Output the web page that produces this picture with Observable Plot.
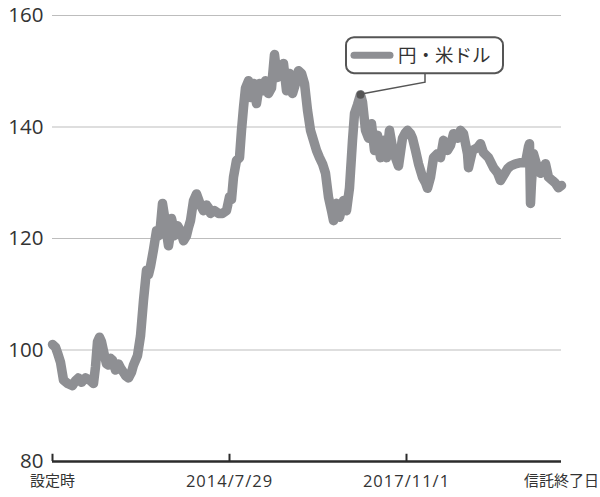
<!DOCTYPE html>
<html>
<head>
<meta charset="utf-8">
<script src="https://cdn.jsdelivr.net/npm/d3@7"></script>
<script src="https://cdn.jsdelivr.net/npm/@observablehq/plot@0.6"></script>
<style>
  html, body { margin: 0; padding: 0; background: #fff; }
  #chart svg { display: block; }
</style>
</head>
<body>
<div id="chart"></div>
<script>
// time position (observation index along the period) and value
const period = [0,3,5,8,11,15,20,23,26,29,33,38,41,43,45,47,49,52,54,56,58,60,63,66,68,71,73,76,79,81,85,88,91,94,96,98,101,104,106,108,110,112,113,116,118,119,121,122,125,128,131,134,136,138,141,144,146,148,151,154,156,158,162,166,170,174,177,179,181,184,187,189,191,193,196,198,201,204,207,210,213,216,219,222,224,225,228,231,234,237,240,243,246,249,252,255,258,261,264,267,270,273,276,279,281,284,287,291,294,297,300,302,305,308,310,313,316,319,322,325,328,331,334,337,340,343,346,350,353,355,358,360,363,366,370,373,375,378,381,385,388,391,395,398,401,405,408,411,415,416,420,425,428,431,436,441,445,448,451,455,458,463,468,473,476,477,478,479,481,485,488,493,496,500,503,506,509];
const series = [101,100.5,99.5,97.8,94.6,94,93.6,94.5,95,94.2,95,94.5,94,97,101.5,102.3,101.5,99,97.5,97.3,98.5,98.2,96.4,97.5,96.8,96,95.4,95,96,97.3,99,102.5,108.9,114.3,113.5,115,118,121.4,120.5,122.3,126.3,124,122.3,118.7,121,123.6,122,120.5,122.3,121.4,119.6,120.5,122,123.2,126.8,128,127,126,125,126,125.5,124.5,125,124.5,124.5,125,127.5,127,131,134,134.5,139.4,143.5,147,148.3,145.3,147.8,144.2,147.8,146.5,148.3,146,147,153,150,148.9,149.6,151.4,146.5,149.6,146,147.8,150.1,149.6,147.8,143,139.4,137.6,135.8,134.5,133.4,131.7,127.4,125,123.2,126.3,123.8,126.8,125,129.1,137.6,142.4,144,145.8,144.5,139.4,138,140.6,135.8,138.5,134.5,137.6,134.5,139.4,136.3,134.5,133,138,139,139.4,138.8,138,135.8,133.4,131,130,129,131,134.5,135.2,134.5,137.6,135.8,136.7,138.8,138,139.4,138.8,135.2,132.7,135.8,136.3,137,135.4,134.5,132.7,131.8,130.4,131.3,132.5,133,133.4,133.6,133.6,136.5,137,126.3,130,135.2,132.7,131.7,133.4,131,130.4,129.9,129.1,129.5];

const yTicks = [80, 100, 120, 140, 160];
const gridValues = [100, 120, 140, 160];
const xTicks = [0, 177, 354, 509];
const xTickLabels = ["設定時", "2014/7/29", "2017/11/1", "信託終了日"];
const xTickMarks = [0, 177, 354];
const seriesName = "円・米ドル";

const data = period.map((p, i) => ({t: p, v: series[i]}));
// annotated point: the local high after the 2016 low
const peak = data.filter(d => d.t > 290).reduce((a, b) => (b.v > a.v ? b : a));

const lineColor = "#8e8f93";
const font = "'Open Sans', 'Noto Sans CJK JP', sans-serif";

const chart = Plot.plot({
  width: 600,
  height: 497,
  marginLeft: 52,
  marginRight: 39,
  marginTop: 15,
  marginBottom: 36,
  style: {fontFamily: font, color: "#333", background: "#fff"},
  x: {domain: [0, 509]},
  y: {domain: [80, 160]},
  marks: [
    Plot.ruleY(gridValues, {stroke: "#bdbdbd", strokeWidth: 1}),
    Plot.line(data, {x: "t", y: "v", stroke: lineColor, strokeWidth: 9.5, strokeLinejoin: "round", strokeLinecap: "round"}),
    Plot.ruleY([80], {stroke: "#2b2b2b", strokeWidth: 2.5}),
    Plot.ruleX(xTickMarks, {y1: 80, y2: 81.3, stroke: "#2b2b2b", strokeWidth: 2}),
    Plot.axisY({ticks: yTicks, tickSize: 0, tickPadding: 9, label: null, fontSize: 20.5}),
    Plot.axisX({ticks: xTicks, tickSize: 0, tickPadding: 14, label: null, fontSize: 15,
      tickFormat: d => xTickLabels[xTicks.indexOf(d)]}),
    Plot.dot([peak], {x: "t", y: "v", r: 4, fill: "#555"})
  ]
});

document.getElementById("chart").appendChild(chart);

// date labels are set a little larger with wider spacing, as in the original
d3.select(chart).selectAll("[aria-label='x-axis tick label'] text")
  .filter(function() { return /\d/.test(this.textContent); })
  .attr("font-size", 16.5).attr("letter-spacing", "1px");

// callout legend attached to the annotated point
const sx = chart.scale("x"), sy = chart.scale("y");
const px = sx.apply(peak.t), py = sy.apply(peak.v);
const svg = d3.select(chart);
const g = svg.append("g").attr("text-anchor", "start");
g.append("polyline")
  .attr("points", `${px},${py} ${px + 65},${py - 12} ${px + 65},${py - 21}`)
  .attr("fill", "none").attr("stroke", "#555").attr("stroke-width", 1.5);
g.append("rect")
  .attr("x", px - 14).attr("y", py - 57).attr("width", 157).attr("height", 36)
  .attr("rx", 8).attr("ry", 8)
  .attr("fill", "#fff").attr("stroke", "#555").attr("stroke-width", 2);
g.append("line")
  .attr("x1", px - 6).attr("x2", px + 30).attr("y1", py - 39).attr("y2", py - 39)
  .attr("stroke", lineColor).attr("stroke-width", 7).attr("stroke-linecap", "round");
g.append("text")
  .attr("x", px + 38).attr("y", py - 39).attr("dy", "0.35em")
  .attr("text-anchor", "start")
  .attr("font-size", 18.5).attr("font-family", font).attr("fill", "#333")
  .text(seriesName);
</script>
</body>
</html>
